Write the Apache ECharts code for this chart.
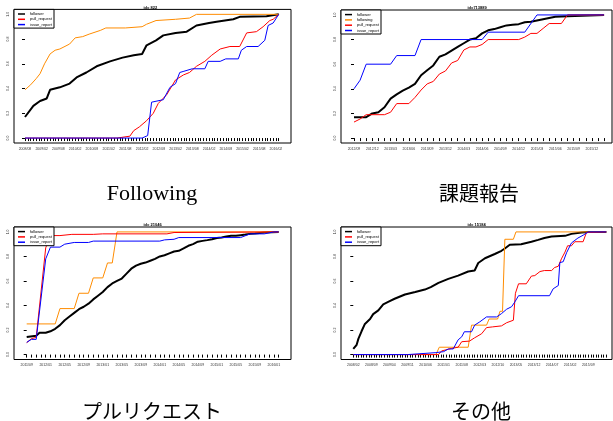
<!DOCTYPE html>
<html><head><meta charset="utf-8">
<script src="https://cdn.jsdelivr.net/npm/echarts@6/dist/echarts.min.js"></script>
<style>html,body{margin:0;padding:0;background:#fff}#c{width:613px;height:421px}</style>
</head><body><div id="c"></div>
<script>
// ---------- data ----------
const seriesNames = ['follower','following','pull_request','issue_report'];
const seriesColors = ['#000000','#ff8c00','#ff0000','#0000ff'];
const yTickValues = [0,0.2,0.4,0.6,0.8,1.0];
const yTickLabels = ['0.0','0.2','0.4','0.6','0.8','1.0'];
const panelTitles = ['id= 822','id=713889','id= 21046','id= 15184'];
const captions = ['Following','課題報告','プルリクエスト','その他'];

// panel 1 (monthly index from 2008/08)
const p1Ticks = ['2008/08','2009/02','2009/08','2010/02','2010/08','2011/02','2011/08','2012/02','2012/08','2013/02','2013/08','2014/02','2014/08','2015/02','2015/08','2016/02'];
const p1Follower = [[0,0.17],[3,0.26],[5.4,0.30],[7.8,0.32],[9,0.39],[12.5,0.41],[16,0.44],[18.5,0.49],[22,0.53],[25.7,0.58],[30.5,0.62],[35,0.65],[39,0.67],[42,0.68],[43.6,0.75],[47,0.79],[49.6,0.83],[54,0.85],[58,0.86],[61.5,0.91],[66,0.93],[68.7,0.94],[74.7,0.96],[77,0.98],[86.6,0.985],[91,1.0]];
const p1Following = [[0,0.39],[2,0.43],[4,0.48],[5.4,0.52],[7,0.60],[9,0.68],[10.8,0.71],[12.5,0.72],[16,0.76],[18,0.81],[20.7,0.82],[23,0.84],[27,0.87],[29,0.89],[36,0.89],[42,0.90],[43.6,0.92],[47,0.95],[54,0.96],[59,0.97],[61.5,1.0],[91,1.0]];
const p1Pull = [[0,0],[33,0],[37.6,0.015],[39,0.06],[41,0.09],[43.6,0.14],[46,0.20],[47.8,0.28],[50.8,0.35],[54,0.47],[56.8,0.51],[59,0.53],[61.5,0.58],[64.5,0.62],[67,0.67],[70,0.72],[73.5,0.74],[77,0.74],[79.5,0.85],[83,0.86],[85.4,0.90],[87.8,0.95],[89,0.96],[91,1.0]];
const p1Issue = [[0,0],[42,0],[44,0.02],[45.4,0.29],[49.6,0.31],[52,0.41],[54,0.44],[55.5,0.53],[57,0.54],[60,0.56],[64.5,0.56],[65.7,0.62],[70,0.62],[72,0.64],[76.5,0.64],[77.6,0.71],[79.5,0.74],[83.6,0.74],[86,0.79],[87.2,0.91],[89,0.93],[91,1.0]];

// panel 2 (from 2012/09)
const p2Ticks = ['2012/09','2012/12','2013/03','2013/06','2013/09','2013/12','2014/03','2014/06','2014/09','2014/12','2015/03','2015/06','2015/09','2015/12'];
const p2Follower = [[0,0.17],[2,0.17],[3,0.20],[4,0.21],[5,0.25],[6,0.32],[7,0.355],[8,0.385],[9,0.41],[10,0.44],[11,0.51],[12,0.55],[13,0.59],[14,0.66],[15,0.68],[16,0.71],[17,0.74],[18,0.77],[19,0.80],[20,0.81],[21,0.85],[22,0.875],[23,0.885],[24,0.90],[25,0.915],[26,0.92],[27,0.925],[28,0.94],[29,0.945],[30,0.955],[31,0.965],[32,0.975],[33,0.985],[35,0.99],[41,1.0]];
const p2Following = [[35,1.0],[41,1.0]];
const p2Pull = [[0,0.13],[1,0.155],[2,0.19],[5,0.19],[6,0.21],[7,0.28],[9,0.28],[10,0.33],[11,0.39],[12,0.44],[13,0.46],[14,0.52],[15,0.545],[16,0.61],[17,0.63],[18,0.715],[19,0.74],[20,0.74],[21,0.76],[22,0.80],[27,0.80],[28,0.82],[29,0.85],[30,0.85],[31,0.89],[32,0.93],[34,0.93],[35,1.0],[41,1.0]];
const p2Issue = [[0,0.40],[1,0.47],[2,0.60],[6,0.60],[7,0.67],[10,0.67],[11,0.80],[21,0.80],[22,0.86],[28,0.86],[30,1.0],[41,1.0]];

// panel 3 (from 2011/09)
const p3Ticks = ['2011/09','2012/01','2012/05','2012/09','2013/01','2013/05','2013/09','2014/01','2014/05','2014/09','2015/01','2015/05','2015/09','2016/01'];
const p3Follower = [[0,0.143],[2,0.154],[2.7,0.178],[4,0.178],[5,0.19],[6,0.21],[7,0.24],[8,0.28],[9,0.31],[10,0.34],[11,0.37],[12,0.39],[13,0.415],[14,0.45],[15,0.48],[16,0.51],[17,0.55],[18,0.58],[19,0.60],[20,0.62],[21,0.66],[22,0.70],[23,0.725],[24,0.74],[25,0.75],[26,0.765],[27,0.78],[28,0.80],[29,0.81],[30,0.825],[31,0.84],[32,0.846],[33,0.865],[34,0.887],[35,0.90],[36,0.92],[37,0.927],[38,0.933],[39,0.94],[40,0.95],[41,0.954],[42,0.962],[43,0.968],[44,0.968],[45,0.973],[46,0.978],[47,0.984],[48,0.987],[50,0.995],[53,1.0]];
const p3Following = [[0,0.25],[6,0.25],[7,0.375],[10,0.375],[11,0.50],[13,0.50],[14,0.625],[16,0.625],[17,0.747],[18,0.747],[19,1.0],[53,1.0]];
const p3Pull = [[0,0.097],[1,0.13],[2,0.14],[4,0.87],[5,0.97],[7,0.97],[9.5,0.98],[14,0.98],[16,0.984],[29.5,0.984],[31,0.995],[53,1.0]];
const p3Issue = [[0,0.10],[1,0.124],[2,0.124],[4,0.78],[5,0.876],[7,0.876],[8,0.90],[10,0.914],[13,0.914],[14,0.925],[28,0.925],[29,0.935],[31,0.94],[32,0.954],[45,0.954],[47,0.984],[50,0.984],[52,1.0],[53,1.0]];

// panel 4 (from 2008/02)
const p4Ticks = ['2008/02','2008/09','2009/04','2009/11','2010/06','2011/01','2011/08','2012/03','2012/10','2013/05','2013/12','2014/07','2015/02','2015/09'];
const p4Follower = [[0,0.046],[1.3,0.08],[2,0.13],[3.2,0.19],[4.5,0.25],[6.5,0.29],[7.7,0.33],[9.7,0.36],[11.6,0.41],[13.5,0.43],[16,0.455],[20,0.49],[24,0.51],[27.7,0.53],[30,0.55],[33,0.585],[36.8,0.617],[40.6,0.644],[44.5,0.677],[47,0.685],[48.4,0.747],[51,0.785],[54.8,0.82],[57.4,0.846],[58.7,0.865],[60.6,0.895],[65,0.90],[69,0.92],[71.6,0.935],[74,0.95],[76.8,0.962],[82,0.968],[84.5,0.984],[88.4,0.995],[91,1.0],[98,1.0]];
const p4Following = [[0,0],[32,0],[33.3,0.06],[44.5,0.06],[45.8,0.24],[51.6,0.24],[52.6,0.29],[55.9,0.29],[56.8,0.353],[57.8,0.353],[58.7,0.94],[62,0.94],[63,1.0],[98,1.0]];
const p4Pull = [[0,0],[33,0],[34.2,0.03],[38,0.05],[40.6,0.06],[42,0.105],[45,0.11],[47,0.137],[49.7,0.17],[51.6,0.22],[54,0.226],[57.4,0.234],[59.4,0.26],[62,0.28],[62.8,0.50],[64,0.577],[67,0.577],[69,0.64],[70.3,0.644],[72.3,0.677],[74,0.685],[76.8,0.685],[78,0.71],[79.4,0.72],[80.6,0.78],[82,0.836],[83,0.887],[84.5,0.887],[85.8,0.92],[89,0.92],[90.3,0.995],[91,1.0],[98,1.0]];
const p4Issue = [[0,0],[21,0],[21.3,0.016],[32,0.016],[35,0.024],[36.8,0.046],[38.7,0.046],[40.6,0.12],[42,0.145],[43,0.186],[45.8,0.186],[47,0.24],[49,0.267],[51.6,0.307],[55.5,0.307],[57.4,0.334],[59.4,0.37],[61.3,0.39],[62.6,0.43],[64,0.48],[76,0.48],[77.4,0.536],[79.4,0.563],[80,0.75],[81.3,0.757],[82.6,0.83],[84.5,0.91],[87,0.95],[89,0.973],[91,1.0],[98,1.0]];

// ---------- layout ----------
const panels = [
  {box:[14,9.4,291,143], xmin:-3.94, xmax:95.4, nTicks:91, labels:p1Ticks, step:6, data:[p1Follower,p1Following,p1Pull,p1Issue], legend:[0,2,3]},
  {box:[341,10,612,143], xmin:-2.13, xmax:42.3, nTicks:41, labels:p2Ticks, step:3, data:[p2Follower,p2Following,p2Pull,p2Issue], legend:[0,1,2,3]},
  {box:[14,227,291,359.5], xmin:-2.67, xmax:55.6, nTicks:53, labels:p3Ticks, step:4, data:[p3Follower,p3Following,p3Pull,p3Issue], legend:[0,2,3]},
  {box:[341,227,612,359.5], xmin:-4.76, xmax:100.2, nTicks:98, labels:p4Ticks, step:7, data:[p4Follower,p4Following,p4Pull,p4Issue], legend:[0,2,3]}
];
const captionPos = [[147,190],[474,190],[147,408],[476,408]];

const grid=[], xAxis=[], yAxis=[], series=[], legend=[], title=[];
const smallFont = 'Liberation Sans';
panels.forEach((p,k)=>{
  const [x0,y0,x1,y1] = p.box;
  grid.push({left:x0, top:y0, width:x1-x0, height:y1-y0, show:true, borderColor:'#000', borderWidth:1, backgroundColor:'transparent'});
  const tickVals=[]; for(let i=0;i<=p.nTicks;i++) tickVals.push(i);
  const labVals=p.labels.map((_,j)=>j*p.step);
  xAxis.push({type:'value', gridIndex:k, min:p.xmin, max:p.xmax, splitLine:{show:false},
    axisLine:{show:false},
    axisTick:{show:true, customValues:tickVals, length:3, lineStyle:{color:'#000', width:1}},
    axisLabel:{show:true, customValues:labVals, margin:4, fontSize:3.5, color:'#333', fontFamily:smallFont,
      formatter:(v)=>{const j=Math.round(v/p.step); return p.labels[j]||'';}}});
  yAxis.push({type:'value', gridIndex:k, min:-0.04, max:1.04, splitLine:{show:false},
    axisLine:{show:false},
    axisTick:{show:true, customValues:yTickValues, length:3, lineStyle:{color:'#000', width:1}},
    axisLabel:{show:true, customValues:yTickValues, rotate:90, margin:4, fontSize:3.5, color:'#333', fontFamily:smallFont,
      formatter:(v)=>{const j=yTickValues.findIndex(t=>Math.abs(t-v)<1e-6); return j>=0?yTickLabels[j]:'';}}});
  p.data.forEach((d,s)=>{
    series.push({type:'line', name:seriesNames[s], xAxisIndex:k, yAxisIndex:k, data:d,
      showSymbol:false, symbol:'none', animation:false, silent:true,
      lineStyle:{color:seriesColors[s], width: s===0?2:1}, itemStyle:{color:seriesColors[s]}});
  });
  legend.push({orient:'vertical', left:x0, top:y0, padding:[2.6,2,1.5,4], itemGap:1.3,
    itemWidth:7, itemHeight:1.5, icon:'rect', selectedMode:false,
    borderColor:'#000', borderWidth:1, backgroundColor:'#fff',
    textStyle:{fontSize:4, lineHeight:4, color:'#000', fontFamily:smallFont},
    data:p.legend.map(s=>({name:seriesNames[s], itemStyle:{color:seriesColors[s]}}))});
  title.push({text:panelTitles[k], left:(x0+x1)/2 - 14, top:y0-9, textAlign:'left',
    textStyle:{fontSize:4, fontWeight:'bold', color:'#000', fontFamily:smallFont}});
  const cp = captionPos[k];
  title.push({text:captions[k], left:cp[0], top:cp[1]-12, textAlign:'center',
    textStyle:{fontSize: k===0?22:20, fontWeight:'normal', color:'#000',
      fontFamily: k===0 ? 'Liberation Serif' : '"Noto Sans CJK JP"'}});
});

const chart = echarts.init(document.getElementById('c'), null, {renderer:'canvas'});
chart.setOption({animation:false, title, grid, xAxis, yAxis, legend, series});
</script></body></html>
